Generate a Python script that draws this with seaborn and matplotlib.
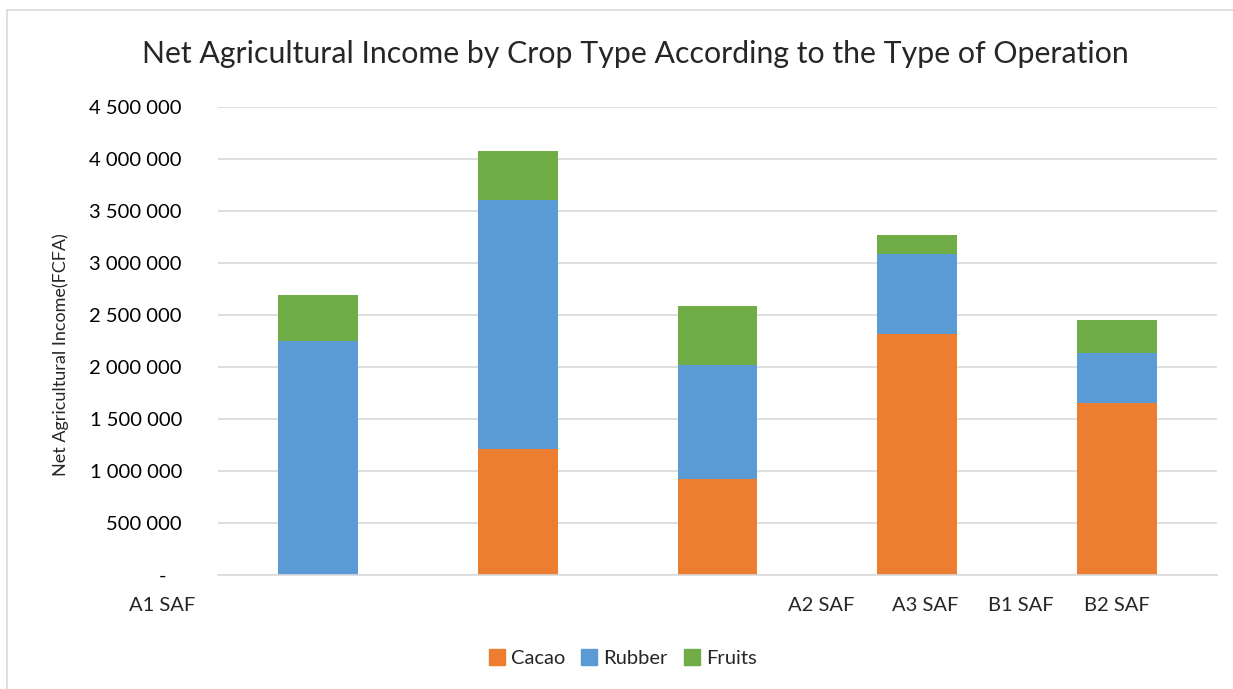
import pandas as pd
import matplotlib.pyplot as plt
import matplotlib.transforms as mtransforms
from matplotlib.ticker import FuncFormatter
from matplotlib.patches import Rectangle
import seaborn as sns

# DATA (FCFA)
groups = ['A1 SAF', 'A2 SAF', 'A3 SAF', 'B1 SAF', 'B2 SAF']
crops = ['Cacao', 'Rubber', 'Fruits']
cacao = [0, 1211000, 920000, 2314000, 1658000]
rubber = [2254000, 2392000, 1099000, 770000, 480000]
fruits = [442000, 471000, 571000, 189000, 318000]

# where Excel put the category labels (in bar units)
label_pos = [-0.78, 2.52, 3.04, 3.52, 4.0]

colors = {'Cacao': '#ED7D31', 'Rubber': '#5B9BD5', 'Fruits': '#70AD47'}

rows = []
for i, g in enumerate(groups):
    for crop, vals in zip(crops, [cacao, rubber, fruits]):
        rows.append({'pos': i, 'group': g, 'crop': crop, 'value': vals[i]})
df = pd.DataFrame(rows)

sns.set_style('white')
plt.rcParams['font.family'] = ['Lato', 'DejaVu Sans']

fig = plt.figure(figsize=(12.33, 6.89), dpi=100)
ax = fig.add_axes([0.1768, 0.1655, 0.8102, 0.6792])

# stacked bars, cacao at the bottom
sns.histplot(data=df, x='pos', weights='value', hue='crop',
             hue_order=crops[::-1], palette=colors, multiple='stack',
             discrete=True, shrink=0.4, linewidth=0, alpha=1,
             legend=False, ax=ax)

ax.set_xlim(-0.5, 4.5)
ax.set_ylim(0, 4500000)
ax.set_yticks(range(0, 4500001, 500000))
ax.yaxis.set_major_formatter(FuncFormatter(
    lambda v, p: '-   ' if v == 0 else f'{int(v):,}'.replace(',', ' ')))
ax.tick_params(axis='y', labelsize=14.5, length=0, pad=26, colors='#000000')
ax.set_xticks([])
ax.grid(axis='y', color='#D9D9D9', linewidth=1.2)
ax.set_axisbelow(True)
for s in ['top', 'right', 'left']:
    ax.spines[s].set_visible(False)
ax.spines['bottom'].set_color('#D9D9D9')
ax.spines['bottom'].set_linewidth(1.2)

trans = mtransforms.blended_transform_factory(ax.transData, ax.transAxes)
for lab, x in zip(groups, label_pos):
    ax.text(x, -0.066, lab, transform=trans, ha='center', va='center',
            fontsize=14.5, clip_on=False)

ax.set_xlabel('')
ax.set_ylabel('Net Agricultural Income(FCFA)', fontsize=13)
ax.yaxis.set_label_coords(-0.149, 0.47)

fig.text(0.515, 0.921, 'Net Agricultural Income by Crop Type According to the Type of Operation',
         ha='center', va='center', fontsize=21.8)

handles = [Rectangle((0, 0), 1, 1, color=colors[c]) for c in crops]
fig.legend(handles, crops, loc='center', bbox_to_anchor=(0.505, 0.045), ncol=3,
           frameon=False, fontsize=14.5, handlelength=0.8, handleheight=0.8,
           handletextpad=0.3, columnspacing=0.8)

fig.patches.append(Rectangle((0.006, -0.01), 1.1, 0.996, transform=fig.transFigure,
                             fill=False, edgecolor='#D9D9D9', linewidth=1.2))

fig.savefig('out.png', dpi=100)
